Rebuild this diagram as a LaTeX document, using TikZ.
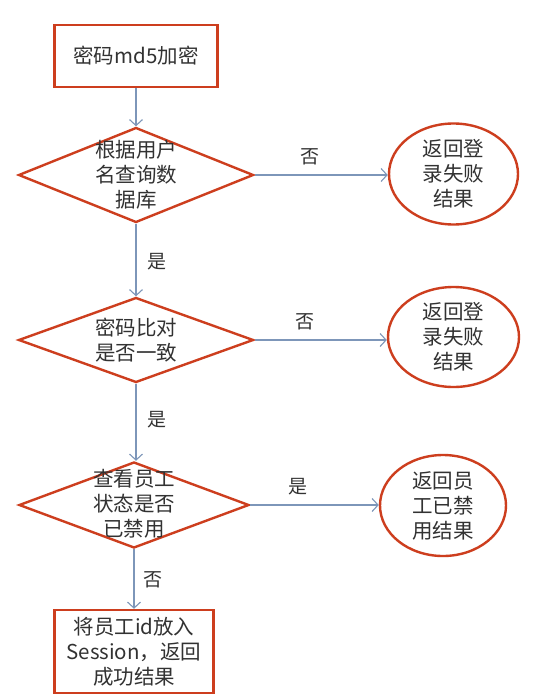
\documentclass[tikz,border=0pt]{standalone}
\usepackage{fontspec}
\setmainfont{Noto Sans CJK SC}
\usetikzlibrary{shapes.geometric,arrows.meta}
\definecolor{bordred}{RGB}{205,62,30}
\definecolor{arrblue}{RGB}{125,150,185}
\definecolor{txtgray}{RGB}{50,50,50}
\tikzset{
  every node/.style={text=txtgray},
  boxnode/.style={draw=bordred, line width=2.4pt, rectangle, inner sep=0pt},
  dianode/.style={draw=bordred, line width=2.4pt, diamond, inner sep=0pt, shape aspect=2.5},
  ellnode/.style={draw=bordred, line width=2.4pt, ellipse, inner sep=0pt},
  txt/.style={font=\fontsize{20.5}{25}\selectfont, align=center, inner sep=0pt},
  lbl/.style={font=\fontsize{19}{20}\selectfont, inner sep=0pt},
  conn/.style={draw=arrblue, line width=1.1pt, -{Straight Barb[length=6pt,width=13pt,line width=1.1pt]}}
}
\begin{document}
\begin{tikzpicture}[x=1pt,y=-1pt]
\useasboundingbox[fill=white] (0,0) rectangle (535,698);
% shapes
\node[boxnode, minimum width=163pt, minimum height=62pt] (b1) at (136,56) {};
\node[txt] (b1t) at (b1.center) {密码md5加密};
\node[dianode, minimum width=235pt, minimum height=95pt] (d1) at (136,175) {};
\node[txt] (d1t) at (136,175) {根据用户\\名查询数\\据库};
\node[ellnode, minimum width=129pt, minimum height=101pt] (e1) at (453.5,174) {};
\node[txt] (e1t) at (e1.center) {返回登\\录失败\\结果};

\node[dianode, minimum width=235pt, minimum height=85pt] (d2) at (136,340) {};
\node[txt] (d2t) at (136,340) {密码比对\\是否一致};
\node[ellnode, minimum width=131pt, minimum height=100pt] (e2) at (453.5,337) {};
\node[txt] (e2t) at (e2.center) {返回登\\录失败\\结果};

\node[dianode, minimum width=230pt, minimum height=86pt] (d3) at (134,505) {};
\node[txt] (d3t) at (134,504) {查看员工\\状态是否\\已禁用};
\node[ellnode, minimum width=126pt, minimum height=101pt] (e3) at (443,505.5) {};
\node[txt] (e3t) at (e3.center) {返回员\\工已禁\\用结果};

\node[boxnode, minimum width=159pt, minimum height=83pt] (b2) at (134,651.5) {};
\node[txt] (b2t) at (b2.center) {将员工id放入\\Session，返回\\成功结果};

% connectors
\draw[conn] (b1.south) -- (b1.south |- d1.north);
\draw[conn] (d1.east) -- (d1.east -| e1.west);
\draw[conn] (d1.south) -- (d1.south |- d2.north);
\draw[conn] (d2.east) -- (d2.east -| e2.west);
\draw[conn] (d2.south) -- (d2.south |- d3.north);
\draw[conn] (d3.east) -- (d3.east -| e3.west);
\draw[conn] (d3.south) -- (d3.south |- b2.north);

% labels
\node[lbl] (l1) at (310,157) {否};
\node[lbl] (l2) at (157,262) {是};
\node[lbl] (l3) at (305,322) {否};
\node[lbl] (l4) at (157,420) {是};
\node[lbl] (l5) at (298,487) {是};
\node[lbl] (l6) at (153,580) {否};
\end{tikzpicture}
\end{document}
